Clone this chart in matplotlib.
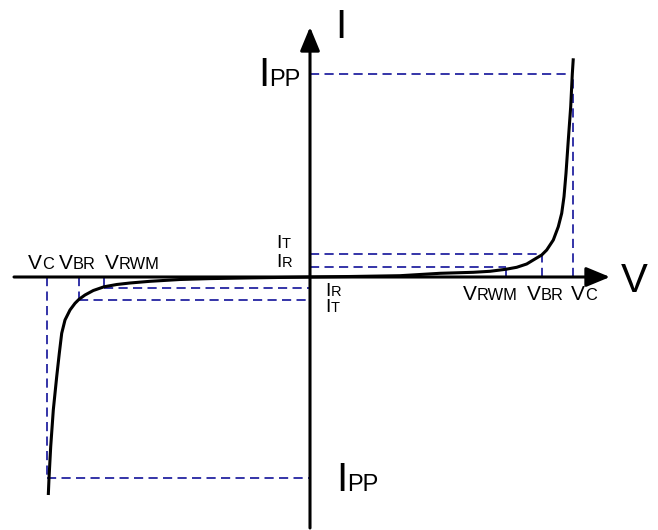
import matplotlib
matplotlib.use("Agg")
import matplotlib.pyplot as plt

plt.rcParams['font.family'] = ['Liberation Sans', 'DejaVu Sans']

# ---- data (V, I), origin at the axes crossing ----
# characteristic points
VC_POS, VBR_POS, VRWM_POS = 263.0, 231.7, 195.7
VC_NEG, VBR_NEG, VRWM_NEG = -263.0, -231.0, -206.0
IPP_POS, IT_POS, IR_POS = 203.0, 23.0, 10.3
IPP_NEG, IT_NEG, IR_NEG = -200.7, -23.0, -10.7

# curve, positive branch
v_pos = [0, 40, 90, 130, 163.3, 180, 195.7, 206.7, 216.7, 223.3, 231.7, 236.7,
         243.3, 248.3, 251.7, 254, 256, 258.3, 260.7, 262.3, 263.3]
i_pos = [0, 0.5, 1.3, 3.7, 4.7, 5.7, 7.7, 9.7, 13, 17, 22, 27,
         37, 50.3, 63.7, 80.3, 103.7, 137, 170.3, 203, 218.7]
# curve, negative branch
v_neg = [0, -60, -100, -130, -160, -180, -193.3, -206, -216.7, -225, -231, -235,
         -240, -245, -248.3, -250.7, -253.3, -256.7, -259.3, -261, -261.7]
i_neg = [0, -0.9, -1.6, -2.5, -4.3, -6, -7.5, -9.8, -13.5, -18, -22.3, -26.3,
         -33, -43, -56.3, -76.3, -99.7, -133, -169.7, -201.3, -218]

# axes extents
V_AXIS = (-296, 300)
I_AXIS = (-251, 250)

fig = plt.figure(figsize=(6.58, 5.30), dpi=100)
ax = fig.add_axes([0, 0, 1, 1])
ax.set_xlim(-310, 348)
ax.set_ylim(-253, 277)
ax.axis('off')

DASH = dict(color='#12129a', lw=1.2, linestyle=(0, (5.5, 3.2)))

# dashed guide lines - positive side
ax.plot([0, VRWM_POS], [IR_POS, IR_POS], **DASH)
ax.plot([VRWM_POS, VRWM_POS], [0, IR_POS], **DASH)
ax.plot([0, VBR_POS], [IT_POS, IT_POS], **DASH)
ax.plot([VBR_POS, VBR_POS], [0, IT_POS], **DASH)
ax.plot([0, VC_POS], [IPP_POS, IPP_POS], **DASH)
ax.plot([VC_POS, VC_POS], [0, IPP_POS], **DASH)
# negative side
ax.plot([VRWM_NEG, 0], [IR_NEG, IR_NEG], **DASH)
ax.plot([VRWM_NEG, VRWM_NEG], [0, IR_NEG], **DASH)
ax.plot([VBR_NEG, 0], [IT_NEG, IT_NEG], **DASH)
ax.plot([VBR_NEG, VBR_NEG], [0, IT_NEG], **DASH)
ax.plot([VC_NEG, 0], [IPP_NEG, IPP_NEG], **DASH)
ax.plot([VC_NEG, VC_NEG], [0, IPP_NEG], **DASH)

# axes with arrows
arrow = dict(arrowstyle='-|>,head_length=1.45,head_width=0.6', lw=2.2,
             color='black', shrinkA=0, shrinkB=0, mutation_scale=10)
ax.annotate('', xy=(V_AXIS[1], 0), xytext=(V_AXIS[0], 0), arrowprops=arrow)
ax.annotate('', xy=(0, I_AXIS[1]), xytext=(0, I_AXIS[0]), arrowprops=arrow)

# curve
ax.plot(v_pos, i_pos, color='black', lw=2.2, solid_capstyle='butt')
ax.plot(v_neg, i_neg, color='black', lw=2.2, solid_capstyle='butt')

fig.canvas.draw()
renderer = fig.canvas.get_renderer()
inv = ax.transData.inverted()


def label(x, y, main, sub, ms, ss):
    t = ax.text(x, y, main, fontsize=ms, ha='left', va='baseline')
    bb = t.get_window_extent(renderer=renderer)
    x1 = inv.transform((bb.x1, bb.y0))[0]
    ax.text(x1, y, sub, fontsize=ss, ha='left', va='baseline')


VM, VS = 15, 11.8   # V-labels
IM, IS = 14, 10.5   # I-labels
label(-282, 8, 'V', 'C', VM, VS)
label(-251, 8, 'V', 'BR', VM, VS)
label(-205, 8, 'V', 'RWM', VM, VS)
label(153, -23, 'V', 'RWM', VM, VS)
label(217, -23, 'V', 'BR', VM, VS)
label(261, -23, 'V', 'C', VM, VS)
label(-33.8, 29, 'I', 'T', IM, IS)
label(-33.8, 10, 'I', 'R', IM, IS)
label(14.9, -18.7, 'I', 'R', IM, IS)
label(14.9, -34.7, 'I', 'T', IM, IS)
label(-52, 191, 'I', 'PP', 29, 17)
label(26.4, -214, 'I', 'PP', 29, 17)

ax.text(311, -15, 'V', fontsize=29, ha='left', va='baseline')
ax.text(25.7, 239, 'I', fontsize=29, ha='left', va='baseline')

fig.savefig('out.png', dpi=100)
